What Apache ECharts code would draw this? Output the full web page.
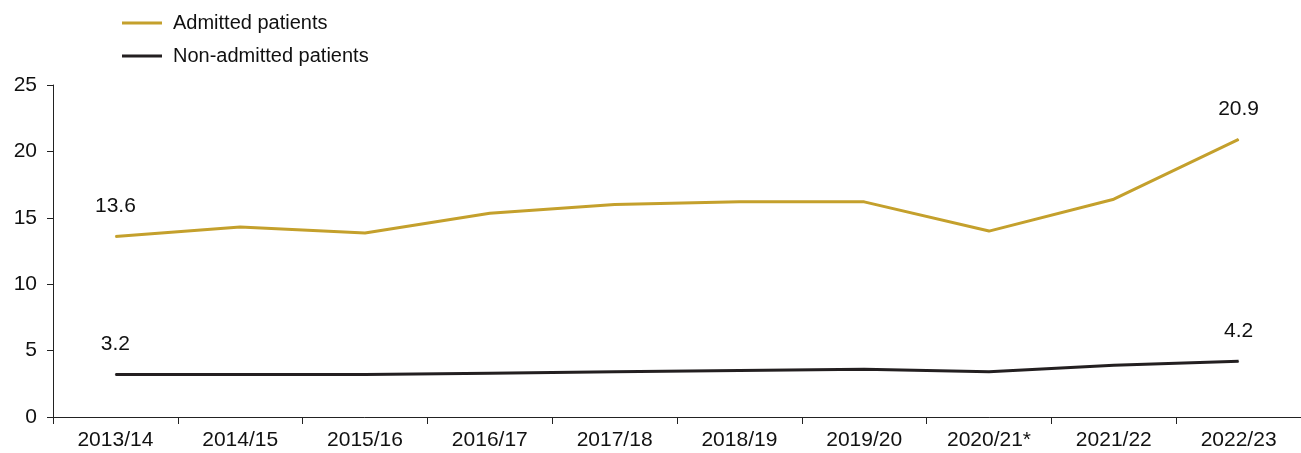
<!DOCTYPE html>
<html>
<head>
<meta charset="UTF-8">
<title></title>
<script src="https://cdn.jsdelivr.net/npm/echarts@6/dist/echarts.min.js"></script>
<style>
	html,body{margin:0;padding:0;background:#fff;}
	#chart{width:1301px;height:453px;}
</style>
</head>
<body>
<div id="chart"></div>
<script>
	var categories = ['2013/14','2014/15','2015/16','2016/17','2017/18','2018/19','2019/20','2020/21*','2021/22','2022/23'];
	var admitted = [13.6, 14.3, 13.85, 15.35, 16.0, 16.2, 16.2, 14.0, 16.4, 20.9];
	var nonAdmitted = [3.2, 3.2, 3.2, 3.3, 3.4, 3.5, 3.6, 3.4, 3.9, 4.2];
	var yTicks = [0, 5, 10, 15, 20, 25];

	var fontName = '"Liberation Sans", Arial, sans-serif';

	// label only on first and last point
	function endLabel(p){
		if (p.dataIndex === 0 || p.dataIndex === categories.length - 1) return Number(p.value).toFixed(1);
		return '';
	}

	var myChart = echarts.init(document.getElementById('chart'));
	var option = {
		animation: false,
		textStyle: {fontFamily: fontName},
		legend: {
			orient: 'vertical',
			left: 117,
			top: 8,
			itemGap: 13,
			itemWidth: 40,
			itemHeight: 3,
			icon: 'rect',
			textStyle: {fontSize: 20, color: '#111', fontFamily: fontName, padding: [0,0,0,6]},
			data: ['Admitted patients', 'Non-admitted patients']
		},
		grid: {left: 53, top: 85, width: 1251, height: 332, containLabel: false},
		xAxis: {
			type: 'category',
			boundaryGap: true,
			data: categories,
			axisLine: {lineStyle: {color: '#222', width: 1}},
			axisTick: {show: true, length: 7, lineStyle: {color: '#222'}},
			axisLabel: {fontSize: 21, color: '#111', margin: 13, fontFamily: fontName}
		},
		yAxis: {
			type: 'value',
			min: yTicks[0],
			max: yTicks[yTicks.length - 1],
			interval: 5,
			splitLine: {show: false},
			axisLine: {show: true, lineStyle: {color: '#222', width: 1}},
			axisTick: {show: true, length: 6, lineStyle: {color: '#222'}},
			axisLabel: {fontSize: 21, color: '#111', margin: 16, fontFamily: fontName}
		},
		series: [
			{
				name: 'Admitted patients',
				type: 'line',
				data: admitted,
				symbol: 'circle',
				symbolSize: 1,
				showSymbol: true,
				color: '#c4a02c',
				lineStyle: {width: 3, color: '#c4a02c'},
				label: {show: true, position: 'top', distance: 19, fontSize: 21, color: '#111', formatter: endLabel}
			},
			{
				name: 'Non-admitted patients',
				type: 'line',
				data: nonAdmitted,
				symbol: 'circle',
				symbolSize: 1,
				showSymbol: true,
				color: '#231f20',
				lineStyle: {width: 3, color: '#231f20'},
				label: {show: true, position: 'top', distance: 19, fontSize: 21, color: '#111', formatter: endLabel}
			}
		]
	};
	myChart.setOption(option);
</script>
</body>
</html>
